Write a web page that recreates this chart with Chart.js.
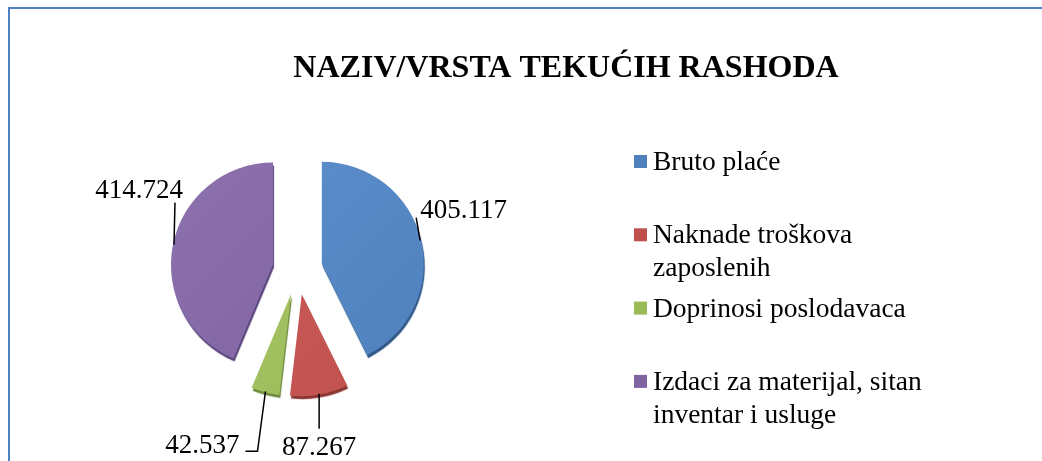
<!DOCTYPE html>
<html>
<head>
<meta charset="utf-8">
<script src="https://cdn.jsdelivr.net/npm/chart.js@4"></script>
<style>
  body { margin: 0; background: #fff; }
  #wrap { width: 1042px; height: 461px; }
</style>
</head>
<body>
<div id="wrap"><canvas id="rashodi" width="1042" height="461"></canvas></div>
<script>
// data
var labels = ["Bruto plaće", "Naknade troškova zaposlenih", "Doprinosi poslodavaca", "Izdaci za materijal, sitan inventar i usluge"];
var values = [405117, 87267, 42537, 414724];
var colors = ["#4F81BD", "#C0504D", "#9BBB59", "#8064A2"];
var lightColors = ["#5C8FCC", "#CC5E5A", "#A8C667", "#8C71AE"];
var edgeColors = ["#2E5686", "#8A3633", "#6E8A3C", "#58437A"];
var title = "NAZIV/VRSTA TEKUĆIH RASHODA";

// how far every slice is pulled out, and where its label sits relative to the leader start
var explode = 25;
var labelLayout = [
    {dx: -4, dy: -23, side: 'right'},
    {dx: 0, dy: 35, side: 'below'},
    {dx: -8, dy: 60, side: 'tick'},
    {dx: 1, dy: -42, side: 'left'}
];

var serif = "'Liberation Serif', 'Times New Roman', serif";

function fmt(v) {
    return String(v).replace(/\B(?=(\d{3})+(?!\d))/g, '.');
}

function wrapText(ctx, text, maxWidth) {
    var words = text.split(' ');
    var lines = [];
    var line = '';
    words.forEach(function (w) {
        var test = line ? line + ' ' + w : w;
        if (line && ctx.measureText(test).width > maxWidth) {
            lines.push(line);
            line = w;
        } else {
            line = test;
        }
    });
    lines.push(line);
    return lines;
}

var explodedPie = {
    id: 'explodedPie',
    beforeDatasetDraw: function (chart, args) {
        var ctx = chart.ctx;
        args.meta.data.forEach(function (arc, i) {
            var mid = (arc.startAngle + arc.endAngle) / 2;
            var r = arc.outerRadius;
            var g = ctx.createLinearGradient(arc.x - r, arc.y - r, arc.x + r, arc.y + r);
            g.addColorStop(0, lightColors[i]);
            g.addColorStop(1, colors[i]);
            arc.options.backgroundColor = g;
            ctx.save();
            ctx.translate(Math.cos(mid) * explode, Math.sin(mid) * explode);
            ctx.shadowColor = edgeColors[i];
            ctx.shadowOffsetX = 1;
            ctx.shadowOffsetY = 3;
            ctx.shadowBlur = 1;
            arc.draw(ctx);
            ctx.restore();
        });
        return false;
    },
    afterDraw: function (chart) {
        var ctx = chart.ctx;
        ctx.save();

        // frame
        ctx.strokeStyle = "#4F81C4";
        ctx.lineWidth = 2;
        ctx.strokeRect(9, 8, 1100, 500);

        // title
        ctx.fillStyle = "#000";
        ctx.font = "bold 32px " + serif;
        ctx.textAlign = 'center';
        ctx.textBaseline = 'alphabetic';
        ctx.fillText(title, 566, 77);

        // data labels with leader lines
        var meta = chart.getDatasetMeta(0);
        ctx.font = "27px " + serif;
        ctx.strokeStyle = "#000";
        ctx.lineWidth = 1.5;
        meta.data.forEach(function (arc, i) {
            var mid = (arc.startAngle + arc.endAngle) / 2;
            var cx = arc.x + Math.cos(mid) * explode;
            var cy = arc.y + Math.sin(mid) * explode;
            var ax = cx + Math.cos(mid) * (arc.outerRadius - 1);
            var ay = cy + Math.sin(mid) * (arc.outerRadius - 1);
            var L = labelLayout[i];
            var ex = ax + L.dx, ey = ay + L.dy;
            ctx.beginPath();
            ctx.moveTo(ax, ay);
            ctx.lineTo(ex, ey);
            if (L.side === 'tick') ctx.lineTo(ex - 12, ey);
            ctx.stroke();
            var txt = fmt(values[i]);
            if (L.side === 'right') {
                ctx.textAlign = 'left';
                ctx.fillText(txt, ex + 4, ey);
            } else if (L.side === 'left') {
                ctx.textAlign = 'right';
                ctx.fillText(txt, ex + 8, ey - 5);
            } else if (L.side === 'below') {
                ctx.textAlign = 'center';
                ctx.fillText(txt, ex, ey + 26);
            } else {
                ctx.textAlign = 'right';
                ctx.fillText(txt, ex - 18, ey + 2);
            }
        });

        // legend
        ctx.font = "27.5px " + serif;
        ctx.textAlign = 'left';
        labels.forEach(function (lab, i) {
            var base = 170 + i * 73.3;
            ctx.fillStyle = colors[i];
            ctx.fillRect(634, base - 15, 13, 13);
            ctx.fillStyle = "#000";
            wrapText(ctx, lab, 280).forEach(function (line, k) {
                ctx.fillText(line, 653, base + k * 33);
            });
        });
        ctx.restore();
    }
};

new Chart(document.getElementById("rashodi"), {
    type: 'pie',
    data: {
        labels: labels,
        datasets: [{
            data: values,
            backgroundColor: colors,
            borderWidth: 0
        }]
    },
    options: {
        responsive: false,
        animation: false,
        radius: 102,
        layout: { padding: { left: 20, right: 467, top: 100, bottom: 22 } },
        plugins: {
            legend: { display: false },
            title: { display: false },
            tooltip: { enabled: false }
        },
        events: []
    },
    plugins: [explodedPie]
});
</script>
</body>
</html>
